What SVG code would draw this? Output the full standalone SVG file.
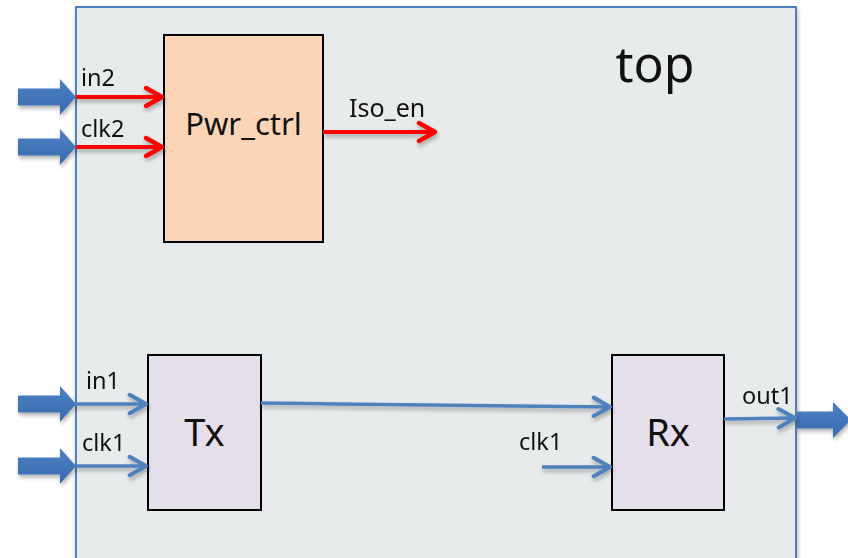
<svg xmlns="http://www.w3.org/2000/svg" width="848" height="558" viewBox="0 0 848 558">
  <style>
    .lbl { font-family: "Noto Sans", "Open Sans", "DejaVu Sans", sans-serif; fill: #111; }
    .small { font-size: 23.5px; }
    .blk { stroke: #000; stroke-width: 2; }
    .red { stroke: #ff0000; stroke-width: 4; fill: none; }
    .blue { stroke: #4f81bd; stroke-width: 3.5; fill: none; }
    .fat { fill: url(#fatFill); }
  </style>
  <defs>
    <linearGradient id="fatFill" x1="0" y1="0" x2="0" y2="1">
      <stop offset="0" stop-color="#4a80c4"/>
      <stop offset="1" stop-color="#3a6bad"/>
    </linearGradient>
    <filter id="shade" x="-20%" y="-50%" width="140%" height="200%">
      <feGaussianBlur in="SourceAlpha" stdDeviation="2"/>
      <feOffset dx="1" dy="3" result="b"/>
      <feComponentTransfer><feFuncA type="linear" slope="0.3"/></feComponentTransfer>
      <feMerge><feMergeNode/><feMergeNode in="SourceGraphic"/></feMerge>
    </filter>
    <marker id="redHead" viewBox="0 0 12 12" refX="11" refY="6" markerWidth="6" markerHeight="6" orient="auto" markerUnits="strokeWidth">
      <path d="M3,1.5 L11,6 L3,10.5" fill="none" stroke="#ff0000" stroke-width="2.2" stroke-linecap="round" stroke-linejoin="round"/>
    </marker>
    <marker id="blueHead" viewBox="0 0 12 12" refX="11" refY="6" markerWidth="7" markerHeight="7" orient="auto" markerUnits="strokeWidth">
      <path d="M3,1.5 L11,6 L3,10.5" fill="none" stroke="#4f81bd" stroke-width="2" stroke-linecap="round" stroke-linejoin="round"/>
    </marker>
    <path id="bigArrow" d="M0,-8.5 L42,-8.5 L42,-18 L58,0 L42,18 L42,8.5 L0,8.5 Z"/>
  </defs>

  <!-- top-level container -->
  <g id="top">
    <rect x="76" y="7" width="720" height="560" fill="#e8ebec" stroke="#4f81bd" stroke-width="2" filter="url(#shade)"/>
    <text class="lbl" x="655" y="82" font-size="50" text-anchor="middle">top</text>
  </g>

  <!-- blocks -->
  <g id="Pwr_ctrl">
    <rect class="blk" x="164" y="35" width="159" height="207" fill="#fbd5b5"/>
    <text class="lbl" x="243.5" y="135" font-size="31" text-anchor="middle">Pwr_ctrl</text>
  </g>
  <g id="Tx">
    <rect class="blk" x="148" y="355" width="113" height="155" fill="#e5dfec"/>
    <text class="lbl" x="204.5" y="446" font-size="38" text-anchor="middle">Tx</text>
  </g>
  <g id="Rx">
    <rect class="blk" x="612" y="355" width="112" height="155" fill="#e5dfec"/>
    <text class="lbl" x="668" y="446" font-size="38" text-anchor="middle">Rx</text>
  </g>

  <!-- ports and connectors -->
  <g id="connectors">
    <!-- external port arrows -->
    <g filter="url(#shade)">
      <use href="#bigArrow" class="fat" transform="translate(18,97)"/>
      <use href="#bigArrow" class="fat" transform="translate(18,147)"/>
      <use href="#bigArrow" class="fat" transform="translate(18,404)"/>
      <use href="#bigArrow" class="fat" transform="translate(18,466)"/>
      <path class="fat" d="M797,411.5 L833,411.5 L833,402 L851,420 L833,438 L833,428.5 L797,428.5 Z"/>
    </g>

    <!-- power-control signals -->
    <g filter="url(#shade)">
      <line class="red" x1="76" y1="97" x2="162" y2="97" marker-end="url(#redHead)"/>
      <line class="red" x1="76" y1="147" x2="162" y2="147" marker-end="url(#redHead)"/>
      <line class="red" x1="323" y1="132" x2="435" y2="132" marker-end="url(#redHead)"/>
    </g>

    <!-- data path signals -->
    <g filter="url(#shade)">
      <line class="blue" x1="76" y1="404" x2="146" y2="404" marker-end="url(#blueHead)"/>
      <line class="blue" x1="76" y1="466" x2="146" y2="466" marker-end="url(#blueHead)"/>
      <line class="blue" x1="261" y1="403" x2="610" y2="407" marker-end="url(#blueHead)"/>
      <line class="blue" x1="542" y1="467" x2="610" y2="467" marker-end="url(#blueHead)"/>
      <line class="blue" x1="724" y1="419" x2="795" y2="418" marker-end="url(#blueHead)"/>
    </g>

    <!-- signal labels -->
    <text class="lbl small" x="81" y="86">in2</text>
    <text class="lbl small" x="81" y="137">clk2</text>
    <text class="lbl" x="349" y="117" font-size="25">Iso_en</text>
    <text class="lbl small" x="86" y="389">in1</text>
    <text class="lbl small" x="82" y="451">clk1</text>
    <text class="lbl small" x="519" y="450">clk1</text>
    <text class="lbl small" x="742" y="404">out1</text>
  </g>
</svg>
